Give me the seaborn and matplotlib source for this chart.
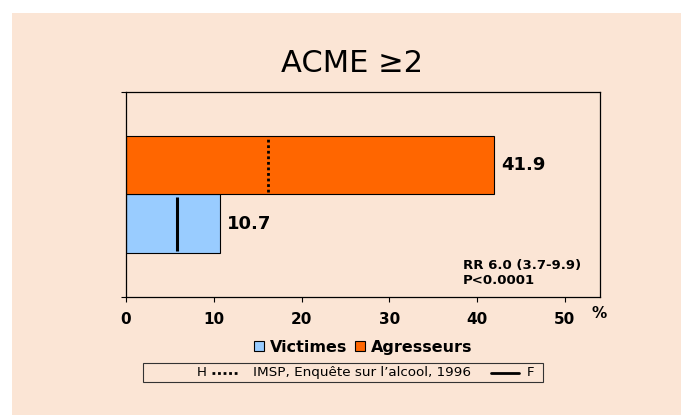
import pandas as pd
import numpy as np
import matplotlib
matplotlib.use("Agg")
import matplotlib.pyplot as plt
from matplotlib.patches import Rectangle
from matplotlib.lines import Line2D
import seaborn as sns

# valeurs
groupes = ["Victimes", "Agresseurs"]
pourcentages = [10.7, 41.9]
couleurs = ["#99CCFF", "#FF6600"]
# traits verticaux dans les barres : F (trait plein) chez les victimes, H (pointillé) chez les agresseurs
marque_f = 5.8
marque_h = 16.2
x_ticks = [0, 10, 20, 30, 40, 50]
titre = "ACME \u22652"
stats_txt = "RR 6.0 (3.7-9.9)\nP<0.0001"
source_txt = "IMSP, Enqu\u00eate sur l\u2019alcool, 1996"

peche = "#FBE5D5"
W, H = 681, 415

sns.set_theme(style="white")
plt.rcParams["font.family"] = ["DejaVu Sans"]
plt.rcParams["text.color"] = "black"
plt.rcParams["xtick.color"] = "black"
plt.rcParams["ytick.color"] = "black"

fig = plt.figure(figsize=(W / 100, H / 100), dpi=100, facecolor="white")
# fond pêche avec marge blanche en haut et à gauche
fig.patches.append(Rectangle((12 / W, 0), 1, 1 - 13 / H, transform=fig.transFigure,
                             facecolor=peche, edgecolor="none", zorder=-10))

ax = fig.add_axes([126 / W, 1 - 297 / H, (600 - 126) / W, (297 - 92) / H])
ax.set_facecolor(peche)

df = pd.DataFrame({"cat": ["ACME"] * 2, "groupe": groupes, "pct": pourcentages})
sns.barplot(data=df, x="pct", y="cat", hue="groupe", hue_order=groupes,
            palette=couleurs, saturation=1, orient="h", width=0.8, edgecolor="black",
            linewidth=0.8, legend=False, ax=ax)

ax.set_xlim(0, 54)
ax.set_ylim(-0.7, 0.7)
ax.set_xticks(x_ticks)
ax.set_xticklabels([str(t) for t in x_ticks], fontweight="bold", fontsize=11)
ax.set_yticks([-0.7, 0.7])
ax.set_yticklabels([])
ax.set_xlabel("")
ax.set_ylabel("")
ax.tick_params(axis="both", direction="out", length=3.5, width=0.8, color="black",
               bottom=True, left=True)
ax.tick_params(axis="x", pad=7)
for s in ax.spines.values():
    s.set_color("black")
    s.set_linewidth(0.9)
    s.set_visible(True)

# étiquettes de valeurs
for cont in ax.containers:
    ax.bar_label(cont, fmt="%.1f", padding=5, fontsize=13, fontweight="bold")

# traits verticaux H / F
marques = {"Victimes": (marque_f, "-", 2.2), "Agresseurs": (marque_h, (0, (1, 1)), 2.0)}
for cont, g in zip(ax.containers, groupes):
    val, ls, lw = marques[g]
    p = cont.patches[0]
    y0, h = p.get_y(), p.get_height()
    ax.vlines(val, y0 + 0.04 * h, y0 + 0.96 * h, colors="black", linestyles=ls, linewidth=lw)

ax.text(463 / W, 1 - 273 / H, stats_txt, transform=fig.transFigure, fontsize=9.5,
        fontweight="bold", va="center", ha="left", linespacing=1.2)

fig.text(599 / W, 1 - 313 / H, "%", fontsize=11, fontweight="bold", ha="center", va="center")
fig.text(352 / W, 1 - 72 / H, titre, fontsize=22, ha="center", va="baseline")

# légende des groupes
poignees = [Rectangle((0, 0), 1, 1, facecolor=c, edgecolor="black", linewidth=0.8) for c in couleurs]
fig.legend(poignees, groupes, loc="center", bbox_to_anchor=(363 / W, 1 - 347 / H), ncol=2,
           frameon=False, handlelength=0.65, handleheight=0.65, handletextpad=0.35,
           columnspacing=0.45, prop={"weight": "bold", "size": 11.5})

# cadre source
fig.patches.append(Rectangle((143 / W, 1 - 382 / H), (543 - 143) / W, (382 - 363) / H,
                             transform=fig.transFigure, facecolor=peche, edgecolor="#333333",
                             linewidth=0.8))
yc = 1 - 372.5 / H
fig.text(197 / W, yc, "H", fontsize=9.5, ha="left", va="center")
fig.lines.append(Line2D([212 / W, 237 / W], [yc, yc], transform=fig.transFigure,
                        color="black", linestyle=(0, (1, 1)), linewidth=2))
fig.text(253 / W, yc, source_txt, fontsize=9.7, ha="left", va="center")
fig.lines.append(Line2D([491 / W, 519 / W], [yc, yc], transform=fig.transFigure,
                        color="black", linewidth=2))
fig.text(527 / W, yc, "F", fontsize=9.5, ha="left", va="center")

fig.savefig("out.png", dpi=100, facecolor=fig.get_facecolor())
